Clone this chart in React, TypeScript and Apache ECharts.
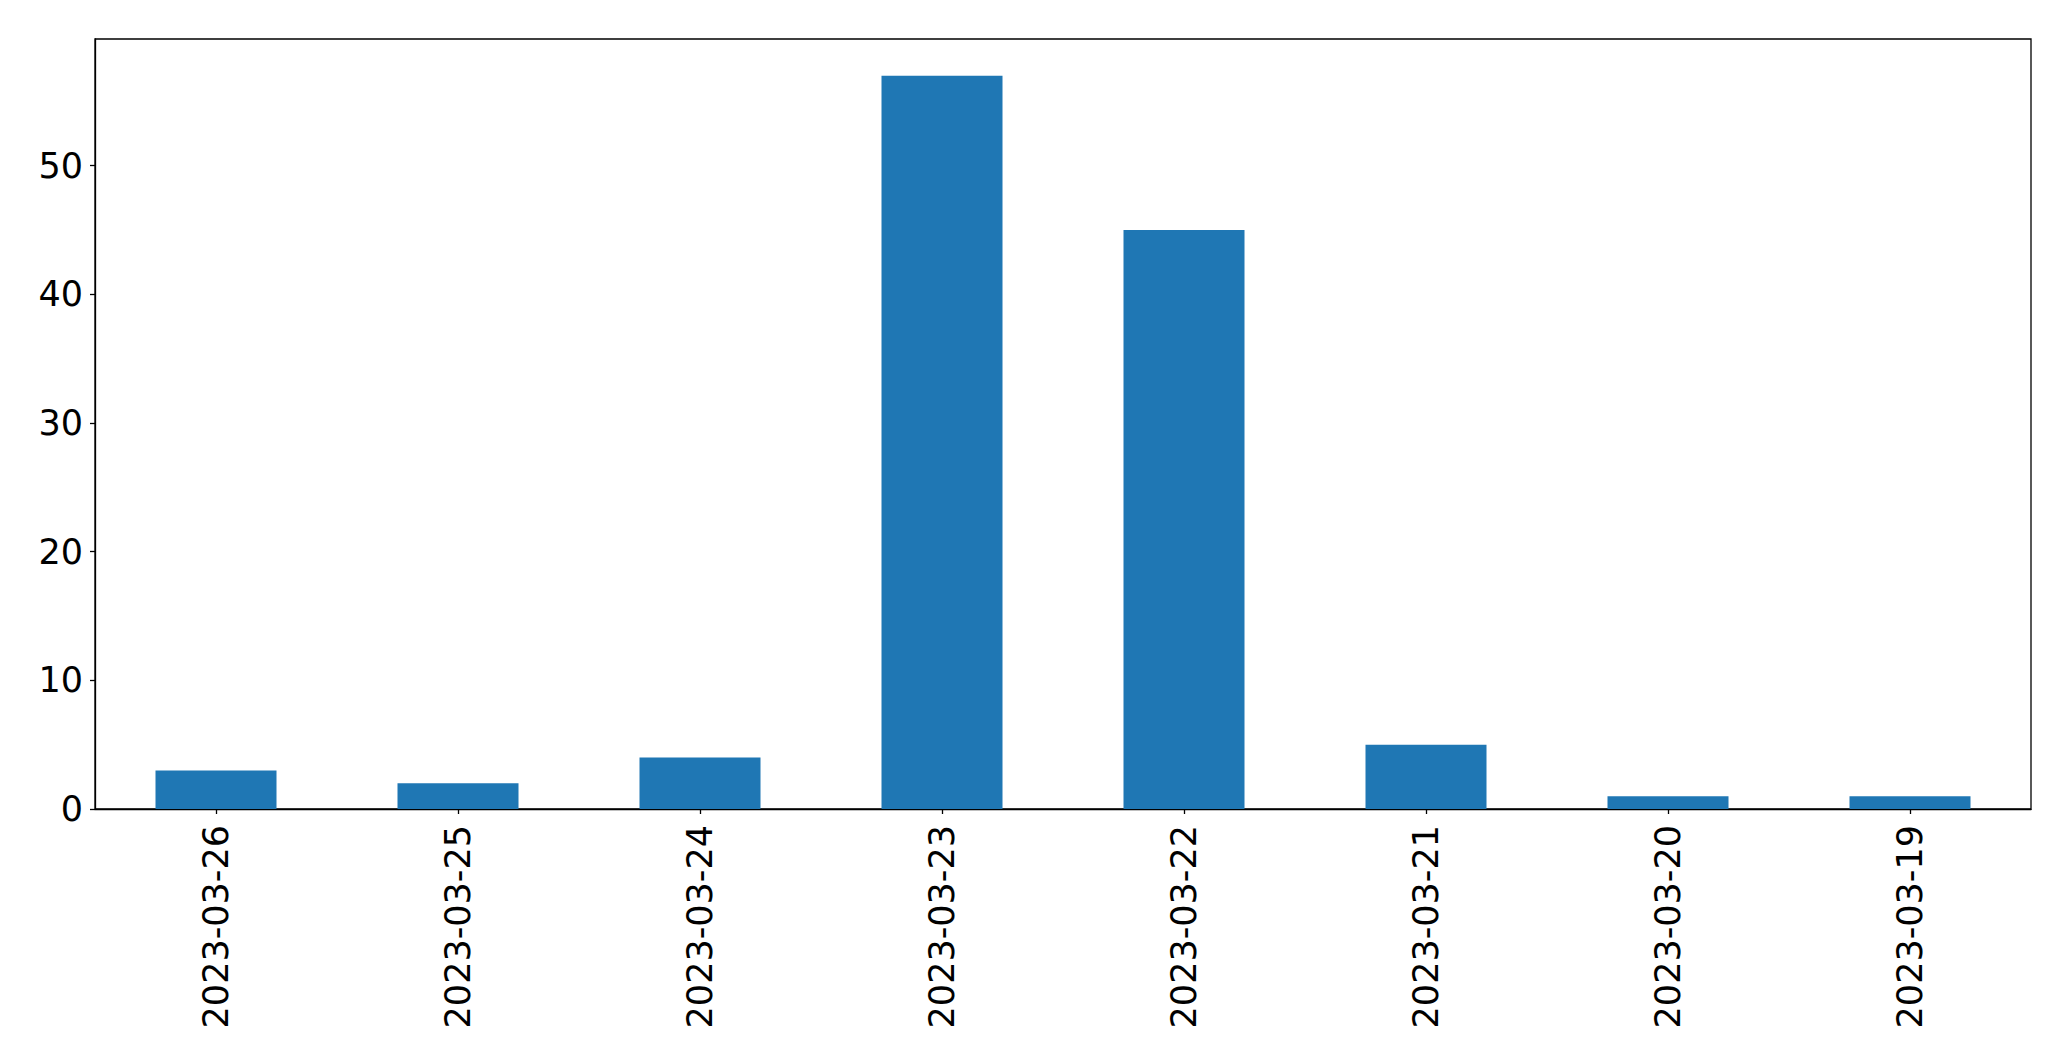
import React, { useEffect, useRef } from "react";
import * as echarts from "echarts";

const categories = [
  "2023-03-26",
  "2023-03-25",
  "2023-03-24",
  "2023-03-23",
  "2023-03-22",
  "2023-03-21",
  "2023-03-20",
  "2023-03-19",
];
const values = [3, 2, 4, 57, 45, 5, 1, 1];
const yMax = 59.85;

export default function App() {
  const ref = useRef<HTMLDivElement>(null);
  useEffect(() => {
    if (!ref.current) return;
    const chart = echarts.init(ref.current, null, { renderer: "svg" });
    chart.setOption({
      animation: false,
      backgroundColor: "#ffffff",
      grid: {
        left: 95,
        right: 40,
        top: 39,
        bottom: 252,
        show: true,
        borderColor: "#000000",
        borderWidth: 1.3,
        backgroundColor: "transparent",
      },
      xAxis: {
        type: "category",
        data: categories,
        boundaryGap: true,
        axisLine: { show: true, lineStyle: { color: "#000000", width: 1.3 } },
        axisTick: {
          show: true,
          alignWithLabel: true,
          length: 5,
          lineStyle: { color: "#000000", width: 1.3 },
        },
        axisLabel: {
          rotate: 90,
          margin: 16,
          color: "#000000",
          fontFamily: "DejaVu Sans",
          fontSize: 35,
          interval: 0,
        },
        splitLine: { show: false },
      },
      yAxis: {
        type: "value",
        min: 0,
        max: yMax,
        interval: 10,
        axisLine: { show: true, lineStyle: { color: "#000000", width: 1.3 } },
        axisTick: {
          show: true,
          length: 5,
          lineStyle: { color: "#000000", width: 1.3 },
        },
        axisLabel: {
          margin: 12,
          color: "#000000",
          fontFamily: "DejaVu Sans",
          fontSize: 35,
          showMaxLabel: false,
          formatter: (v: number) => (v % 10 === 0 ? String(v) : ""),
        },
        splitLine: { show: false },
      },
      series: [
        {
          type: "bar",
          data: values,
          barWidth: "50%",
          itemStyle: { color: "#1f77b4" },
        },
      ],
    });
    return () => chart.dispose();
  }, []);
  return (
    <div
      ref={ref}
      style={{ position: "fixed", left: 0, top: 0, width: 2071, height: 1061 }}
    />
  );
}
